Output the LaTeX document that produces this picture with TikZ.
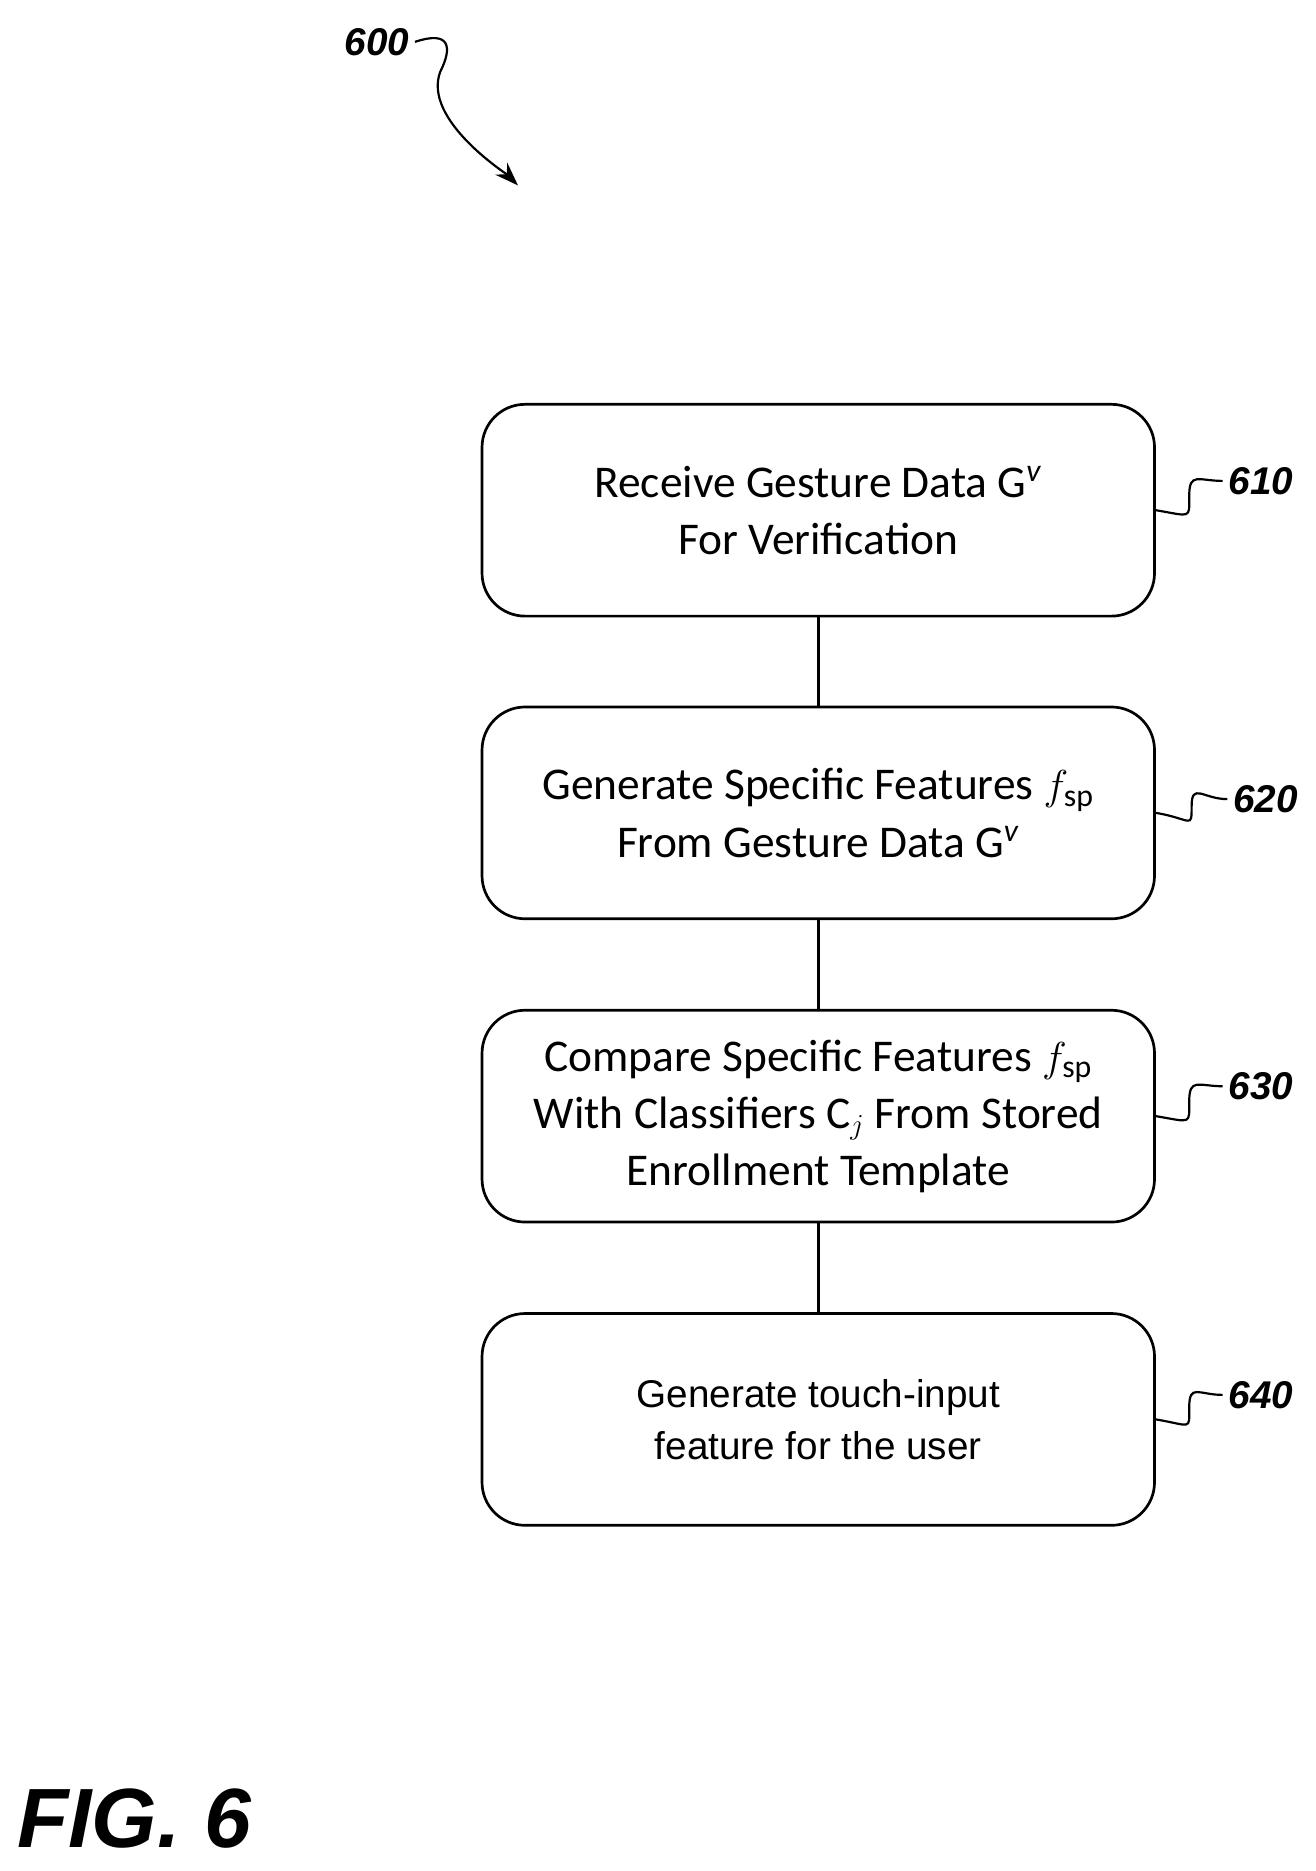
\documentclass[tikz,border=0pt]{standalone}
\usepackage{fontspec}
\setmainfont{Carlito}
\newfontfamily\arialfont{Liberation Sans}
\usetikzlibrary{positioning,calc,arrows.meta}

\tikzset{
  flowstep/.style={draw, line width=1.6pt, rounded corners=0.9cm, minimum width=14.05cm,
    minimum height=4.425cm, align=center, font=\fontsize{27}{34}\selectfont},
  reflabel/.style={font=\arialfont\bfseries\itshape\fontsize{23}{23}\selectfont, anchor=west},
  squig/.style={line width=1.3pt},
}

\begin{document}
\begin{tikzpicture}[x=0.025cm,y=-0.025cm]
\useasboundingbox (0,0) rectangle (1100,1564);

% steps of the flow
\node[flowstep] (recv) at (684,426.5) {Receive Gesture Data G\textsuperscript{\textit{v}}\\For Verification};
\node[flowstep] (feat) at (684,679.5) {Generate Specific Features $f_{\mathrm{sp}}$\\From Gesture Data G\textsuperscript{\textit{v}}};
\node[flowstep] (comp) at (684,933) {Compare Specific Features $f_{\mathrm{sp}}$\\With Classifiers C$_j$ From Stored\\Enrollment Template};
\node[flowstep, font=\arialfont\fontsize{23}{31}\selectfont] (touch) at (684,1186.5) {Generate touch-input\\feature for the user};

% connections
\draw[line width=1.6pt] (recv) -- (feat);
\draw[line width=1.6pt] (feat) -- (comp);
\draw[line width=1.6pt] (comp) -- (touch);

% reference numbers
\node[reflabel] (l610) at (1022,402) {610};
\node[reflabel] (l620) at (1026,668) {620};
\node[reflabel] (l630) at (1022,908) {630};
\node[reflabel] (l640) at (1022,1166) {640};
\foreach \b/\l in {recv/l610, feat/l620, comp/l630, touch/l640}
  \draw[squig] (\b.east) .. controls +(30,5) and +(0,20) .. ($(\b.east)!0.5!(\l.west)$)
    .. controls +(0,-20) and +(-20,0) .. (\l.west);

% figure number
\node[reflabel] (l600) at (283,35) {600};
\draw[squig, -{Stealth[length=14pt,width=10pt]}] (l600.east) .. controls +(30,-10) and +(10,-20) .. (368,60)
  .. controls +(-15,40) and +(-10,-10) .. (433,155);
\node[font=\arialfont\bfseries\itshape\fontsize{50}{50}\selectfont] (fig) at (112,1520) {FIG. 6};
\end{tikzpicture}
\end{document}
